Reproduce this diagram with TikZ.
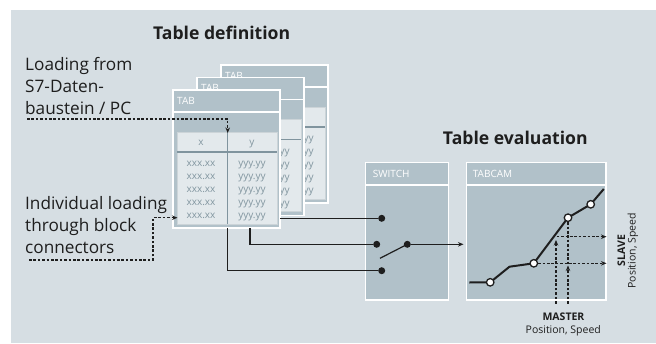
\documentclass[tikz,border=0pt]{standalone}
\usepackage{fontspec}
\usetikzlibrary{arrows.meta}
\setmainfont{Open Sans}
\definecolor{bgpanel}{RGB}{214,222,227}
\definecolor{boxfill}{RGB}{177,193,201}
\definecolor{cellfill}{RGB}{227,233,236}
\definecolor{gridline}{RGB}{128,148,158}
\definecolor{celltext}{RGB}{130,150,160}
\definecolor{ink}{RGB}{30,30,30}

% one TAB sheet, shifted by #1, node names prefixed by #2
\newcommand{\tabsheet}[2]{%
  \begin{scope}[shift={#1}]
    \draw[sheet] (173,90) rectangle (280,228);
    \draw[white, line width=1.3] (173,112) -- (280,112);
    \draw[fill=cellfill, draw=gridline!40, line width=0.6] (177,132) rectangle (277,224);
    \draw[gridline, line width=1.2] (177,152) -- (277,152);
    \draw[gridline, line width=1] (227.7,132) -- (227.7,224);
    \node[head] (#2-name) at (177,104.3) {TAB};
    \node[cell] (#2-x) at (201,145) {x};
    \node[cell] (#2-y) at (252,145) {y};
    \foreach \r in {0,...,4}{
      \node[cell] (#2-x\r) at (201,166.5+13.1*\r) {xxx.xx};
      \node[cell] (#2-y\r) at (252,166.5+13.1*\r) {yyy.yy};
    }
  \end{scope}}

\begin{document}
\begin{tikzpicture}[x=1pt, y=-1pt, >={Stealth[length=5.5pt,width=4.5pt]},
    sheet/.style={fill=boxfill, draw=white, line width=1.3},
    cell/.style={font=\fontsize{10}{12}\selectfont, text=celltext, inner sep=0pt, anchor=base},
    head/.style={font=\fontsize{10}{12}\selectfont, text=white, inner sep=0pt, anchor=base west},
    title/.style={font=\bfseries\fontsize{17.6}{20}\selectfont, text=ink, inner sep=0pt, anchor=base},
    note/.style={font=\fontsize{17.2}{21.8}\selectfont, text=ink, align=left, inner sep=0pt, anchor=west},
    axis/.style={font=\fontsize{10.5}{12}\selectfont, text=ink, inner sep=0pt, anchor=base},
    wire/.style={ink, line width=1.2},
    feed/.style={ink, line width=1.1, dash pattern=on 2.6pt off 1.8pt},
    dot/.style={circle, fill=ink, inner sep=0pt, minimum size=7pt},
    knot/.style={circle, fill=white, draw=ink, line width=1.3, inner sep=0pt, minimum size=7.5pt}]

    \fill[white] (0,0) rectangle (656,343);
    \fill[bgpanel] (11,10) rectangle (656,343);
    \useasboundingbox (0,0) rectangle (656,343);

    \node[title] (tabdef) at (221.7,39.3) {Table definition};
    \node[title] (tabeval) at (515.3,144) {Table evaluation};

    % stacked sheets, back to front
    \tabsheet{(48,-25)}{back}
    \tabsheet{(24,-12.5)}{mid}
    \tabsheet{(0,0)}{tab}

    \node[note] (loadpc) at (25,86) {Loading from\\S7-Daten-\\baustein / PC};
    \node[note] (loadio) at (25,225) {Individual loading\\through block\\connectors};

    \coordinate (pcfrom) at (27,119);
    \coordinate (pcto) at (227.7,133);
    \draw[feed, ->] (pcfrom) -| (pcto);

    \coordinate (iofrom) at (29,260);
    \coordinate (iobend) at (153,260);
    \coordinate (ioto) at (177.5,217.7);
    \draw[feed, ->] (iofrom) -- (iobend) |- (ioto);

    % switch block
    \draw[sheet] (365.3,162.3) rectangle (448.3,300);
    \draw[white, line width=1.3] (365.3,185) -- (448.3,185);
    \node[head] (swname) at (372.7,177.3) {SWITCH};
    \node[dot] (sw1) at (381.7,218.3) {};
    \node[dot] (sw2) at (376.7,244.3) {};
    \node[dot] (sw3) at (381.7,270.7) {};
    \node[dot] (swpivot) at (407.3,244.3) {};
    \coordinate (swlever) at (380,258.3);

    \coordinate (tabout1) at (280,218.3);
    \coordinate (tabout2) at (250,228);
    \coordinate (tabout3) at (227.7,228);
    \coordinate (camin) at (463.5,244.3);
    \draw[wire] (tabout1) -- (sw1);
    \draw[wire] (tabout2) |- (sw2);
    \draw[wire] (tabout3) |- (sw3);
    \draw[wire] (swlever) -- (swpivot.center);
    \draw[wire, ->] (swpivot) -- (camin);

    % cam block
    \draw[sheet] (466.7,162.3) rectangle (606,300);
    \draw[white, line width=1.3] (466.7,185) -- (606,185);
    \node[head] (camname) at (472.7,177) {TABCAM};

    \coordinate (c0) at (469.3,282.5);
    \coordinate (c1) at (490.2,282.3);
    \coordinate (c2) at (509.5,266.7);
    \coordinate (c3) at (533.8,263.3);
    \coordinate (c4) at (568,217.7);
    \coordinate (c5) at (590.7,204.3);
    \coordinate (c6) at (603.8,189);

    % master in, slave out
    \coordinate (m1) at (556,303.5);
    \coordinate (m1top) at (556,240);
    \coordinate (m2) at (568,303.5);
    \coordinate (m2top) at (568,265.5);
    \coordinate (s1) at (556.7,236.7);
    \coordinate (s1end) at (606.5,236.7);
    \coordinate (s2end) at (606.5,263.3);
    \draw[feed, ->] (m1) -- (m1top);
    \draw[feed, ->] (m2) -- (m2top);
    \draw[feed] (c4) -- (m2top);
    \draw[feed, ->] (s1) -- (s1end);
    \draw[feed, ->] (c3) -- (s2end);

    \draw[ink, line width=2, line join=round] (c0) -- (c1) -- (c2) -- (c3) -- (c4) -- (c5) -- (c6);
    \node[knot] (k1) at (c1) {};
    \node[knot] (k3) at (c3) {};
    \node[knot] (k4) at (c4) {};
    \node[knot] (k5) at (c5) {};

    \node[axis, font=\bfseries\fontsize{10.5}{12}\selectfont] (master) at (563.5,320) {MASTER};
    \node[axis] (masterq) at (563.3,333.5) {Position, Speed};
    \node[axis, rotate=90, font=\bfseries\fontsize{10.5}{12}\selectfont] (slave) at (625,250.5) {SLAVE};
    \node[axis, rotate=90] (slaveq) at (635.5,250.8) {Position, Speed};
\end{tikzpicture}
\end{document}
